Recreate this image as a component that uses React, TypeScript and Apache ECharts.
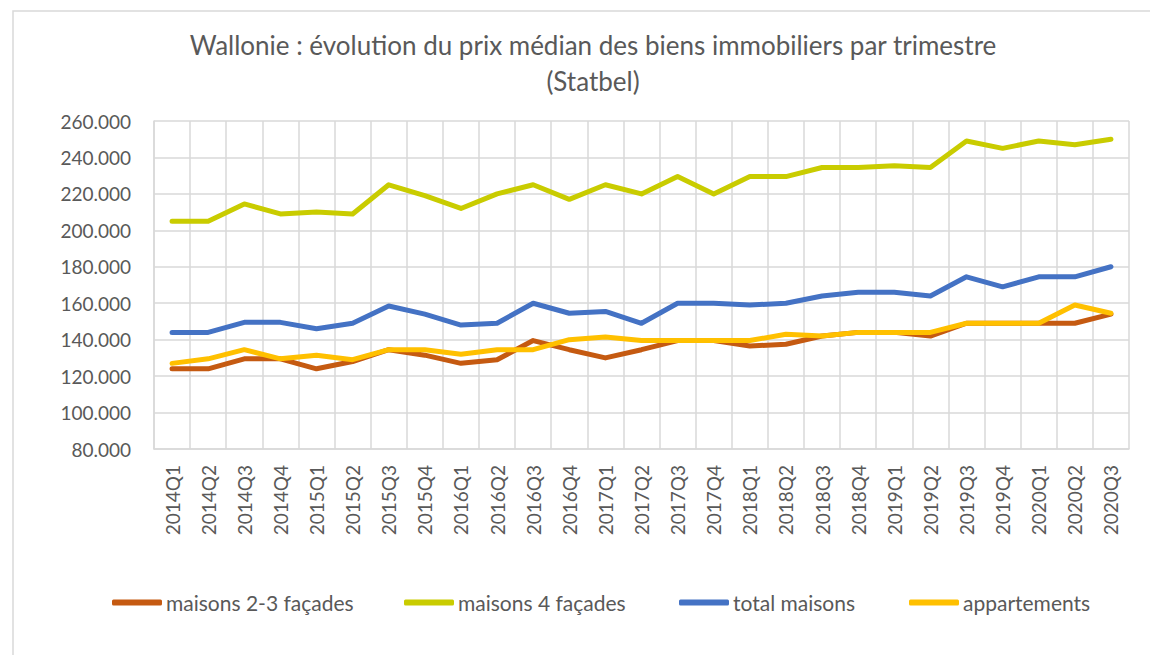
import React, { useEffect, useRef } from "react";
import * as echarts from "echarts";

const categories = [
  "2014Q1", "2014Q2", "2014Q3", "2014Q4",
  "2015Q1", "2015Q2", "2015Q3", "2015Q4",
  "2016Q1", "2016Q2", "2016Q3", "2016Q4",
  "2017Q1", "2017Q2", "2017Q3", "2017Q4",
  "2018Q1", "2018Q2", "2018Q3", "2018Q4",
  "2019Q1", "2019Q2", "2019Q3", "2019Q4",
  "2020Q1", "2020Q2", "2020Q3",
];

const maisons23 = [
  124000, 124000, 129500, 129500, 124000, 128000, 134500, 131500, 127000, 129000,
  139500, 134500, 130000, 134500, 139500, 139500, 136500, 137500, 142000, 144000,
  144000, 142000, 149000, 149000, 149000, 149000, 154000,
];

const maisons4 = [
  205000, 205000, 214500, 209000, 210000, 209000, 225000, 219000, 212000, 220000,
  225000, 217000, 225000, 220000, 229500, 220000, 229500, 229500, 234500, 234500,
  235500, 234500, 249000, 245000, 249000, 247000, 250000,
];

const totalMaisons = [
  144000, 144000, 149500, 149500, 146000, 149000, 158500, 154000, 148000, 149000,
  160000, 154500, 155500, 149000, 160000, 160000, 159000, 160000, 164000, 166000,
  166000, 164000, 174500, 169000, 174500, 174500, 180000,
];

const appartements = [
  127000, 129500, 134500, 129500, 131500, 129000, 134500, 134500, 132000, 134500,
  134500, 140000, 141500, 139500, 139500, 139500, 139500, 143000, 142000, 144000,
  144000, 144000, 149000, 149000, 149000, 159000, 154500,
];

const seriesNames = ["maisons 2-3 façades", "maisons 4 façades", "total maisons", "appartements"];
const seriesColors = ["#C55A11", "#C9CC00", "#4472C4", "#FFC000"];
const titleText = "Wallonie : évolution du prix médian des biens immobiliers par trimestre\n(Statbel)";

const FONT = "Lato, 'Open Sans', sans-serif";
const TEXT = "#595959";
const GRID = "#D9D9D9";
const legendLefts = [112, 404, 679, 909];

function fmt(v: number): string {
  const s = Math.round(v).toString();
  return s.replace(/\B(?=(\d{3})+(?!\d))/g, ".");
}

export default function App() {
  const ref = useRef<HTMLDivElement>(null);
  useEffect(() => {
    if (!ref.current) return;
    const chart = echarts.init(ref.current, undefined, { renderer: "svg" });
    const data = [maisons23, maisons4, totalMaisons, appartements];
    chart.setOption({
      animation: false,
      backgroundColor: "#FFFFFF",
      title: {
        text: titleText,
        left: 588,
        top: 22,
        textAlign: "center",
        textStyle: {
          fontFamily: FONT,
          fontSize: 26,
          fontWeight: "normal",
          color: TEXT,
          lineHeight: 36,
        },
      },
      graphic: [
        {
          type: "rect",
          silent: true,
          shape: { x: 13, y: 11, width: 1300, height: 800 },
          style: { fill: "none", stroke: GRID, lineWidth: 1.5 },
        },
      ],
      legend: seriesNames.map((name, i) => ({
        data: [name],
        left: legendLefts[i],
        top: 592,
        padding: 0,
        itemWidth: 50,
        itemHeight: 6,
        icon: "roundRect",
        textStyle: { fontFamily: FONT, fontSize: 21, color: TEXT, padding: [0, 0, 0, -1] },
      })),
      grid: { left: 154, right: 21, top: 121, bottom: 206, containLabel: false },
      xAxis: {
        type: "category",
        data: categories,
        boundaryGap: true,
        axisLine: { show: true, lineStyle: { color: GRID, width: 1.5 } },
        axisTick: { show: false },
        splitLine: { show: true, lineStyle: { color: GRID, width: 1.5 } },
        axisLabel: {
          rotate: 90,
          interval: 0,
          margin: 16,
          fontFamily: FONT,
          fontSize: 19,
          color: TEXT,
        },
      },
      yAxis: {
        type: "value",
        min: 80000,
        max: 260000,
        interval: 20000,
        axisLine: { show: true, lineStyle: { color: GRID, width: 1.5 } },
        axisTick: { show: false },
        splitLine: { show: true, lineStyle: { color: GRID, width: 1.5 } },
        axisLabel: {
          margin: 23,
          fontFamily: FONT,
          fontSize: 19,
          color: TEXT,
          formatter: (v: number) => fmt(v),
        },
      },
      series: seriesNames.map((name, i) => ({
        name,
        type: "line",
        data: data[i],
        symbol: "none",
        color: seriesColors[i],
        lineStyle: { color: seriesColors[i], width: 5, cap: "round", join: "round" },
      })),
    });
    return () => chart.dispose();
  }, []);
  return (
    <div
      ref={ref}
      style={{ position: "fixed", left: 0, top: 0, width: 1150, height: 655 }}
    />
  );
}
